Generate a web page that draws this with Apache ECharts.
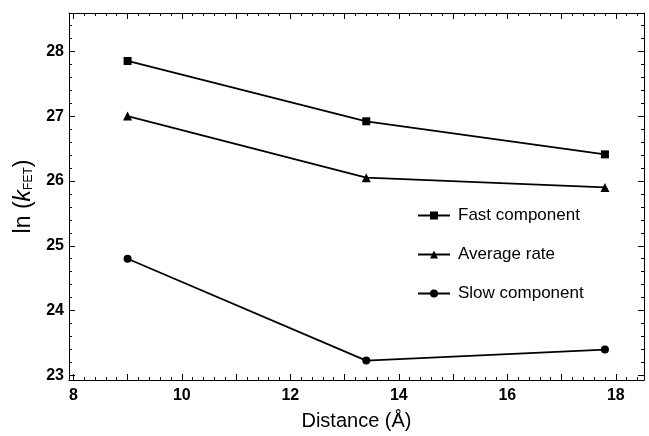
<!DOCTYPE html>
<html>
<head>
<meta charset="utf-8">
<script src="https://cdn.jsdelivr.net/npm/echarts@6/dist/echarts.min.js"></script>
<style>
  html, body { margin: 0; padding: 0; background: #fff; }
  #chart { width: 649px; height: 436px; }
</style>
</head>
<body>
<div id="chart"></div>
<script>
// Donor–acceptor distance (Å) and ln(k_FET) for each rate component
const distances = [9.0, 13.4, 17.8];
const fastComponent = [27.85, 26.92, 26.41];
const averageRate = [27.0, 26.05, 25.9];
const slowComponent = [24.8, 23.23, 23.4];

const seriesNames = ['Fast component', 'Average rate', 'Slow component'];

// Axis ticks and labels
const xMajorTicks = [8, 9, 10, 11, 12, 13, 14, 15, 16, 17, 18];
const xTickLabels = [8, 10, 12, 14, 16, 18];
const yMajorTicks = [23, 24, 25, 26, 27, 28];
const yTickLabels = [23, 24, 25, 26, 27, 28];

const X_MIN = 7.92, X_MAX = 18.52;
const Y_MIN = 22.93, Y_MAX = 28.59;

function minorBetween(lo, hi, step) {
  const out = [];
  for (let v = lo; v <= hi + 1e-9; v += step) {
    const r = Math.round(v * 10) / 10;
    if (Math.abs(r - Math.round(r)) > 1e-6) out.push(r);
  }
  return out;
}
const xMinorTicks = minorBetween(8, 18.4, 0.2);
const yMinorTicks = minorBetween(23, 28.4, 0.2);

const font = 'Liberation Sans, Arial, sans-serif';

function xAxisDef(position, ticks, len, showLabels, showLine, extra) {
  return Object.assign({
    type: 'value', position: position, min: X_MIN, max: X_MAX,
    axisLine: { show: showLine, lineStyle: { color: '#000', width: 1 } },
    axisTick: { show: true, inside: true, length: len, customValues: ticks,
                lineStyle: { color: '#000', width: 1 } },
    axisLabel: showLabels
      ? { show: true, customValues: xTickLabels, color: '#000', fontFamily: font,
          fontWeight: 'bold', fontSize: 16, margin: 8 }
      : { show: false },
    splitLine: { show: false }
  }, extra || {});
}
function yAxisDef(position, ticks, len, showLabels, showLine, extra) {
  return Object.assign({
    type: 'value', position: position, min: Y_MIN, max: Y_MAX,
    axisLine: { show: showLine, lineStyle: { color: '#000', width: 1 } },
    axisTick: { show: true, inside: true, length: len, customValues: ticks,
                lineStyle: { color: '#000', width: 1 } },
    axisLabel: showLabels
      ? { show: true, customValues: yTickLabels, color: '#000', fontFamily: font,
          fontWeight: 'bold', fontSize: 16, margin: 5 }
      : { show: false },
    splitLine: { show: false }
  }, extra || {});
}

const lineSeries = (name, values, symbol, size) => ({
  name: name,
  type: 'line',
  xAxisIndex: 0, yAxisIndex: 0,
  data: distances.map((d, i) => [d, values[i]]),
  symbol: symbol,
  symbolSize: size,
  lineStyle: { color: '#000', width: 1.8 },
  itemStyle: { color: '#000' },
  emphasis: { disabled: true },
  animation: false
});

const chart = echarts.init(document.getElementById('chart'), null, { renderer: 'canvas' });
chart.setOption({
  backgroundColor: '#fff',
  animation: false,
  grid: { left: 69, right: 5, top: 13, bottom: 52, containLabel: false },
  legend: {
    orient: 'vertical',
    left: 412, top: 202,
    itemWidth: 32, itemHeight: 10, itemGap: 22,
    data: seriesNames,
    textStyle: { color: '#000', fontFamily: font, fontSize: 17, padding: [0, 0, 0, 3] },
    selectedMode: false
  },
  xAxis: [
    xAxisDef('bottom', xMajorTicks, 6, true, true, {
      name: 'Distance (Å)', nameLocation: 'middle', nameGap: 31,
      nameTextStyle: { color: '#000', fontFamily: font, fontSize: 20 }
    }),
    xAxisDef('bottom', xMinorTicks, 3, false, false),
    xAxisDef('top', xMajorTicks, 6, false, true),
    xAxisDef('top', xMinorTicks, 3, false, false)
  ],
  yAxis: [
    yAxisDef('left', yMajorTicks, 6, true, true, {
      name: '{n|ln (}{k|k}{s|FET}{n|)}', nameLocation: 'middle', nameGap: 34, nameRotate: 90,
      nameTextStyle: {
        color: '#000', fontFamily: font, fontSize: 23,
        rich: {
          n: { fontFamily: font, fontSize: 23, color: '#000' },
          k: { fontFamily: font, fontSize: 23, fontStyle: 'italic', color: '#000' },
          s: { fontFamily: font, fontSize: 12, color: '#000', verticalAlign: 'bottom', padding: [11, 0, 0, 0] }
        }
      }
    }),
    yAxisDef('left', yMinorTicks, 3, false, false),
    yAxisDef('right', yMajorTicks, 6, false, true),
    yAxisDef('right', yMinorTicks, 3, false, false)
  ],
  series: [
    lineSeries(seriesNames[0], fastComponent, 'rect', 8),
    lineSeries(seriesNames[1], averageRate, 'triangle', 9),
    lineSeries(seriesNames[2], slowComponent, 'circle', 8)
  ]
});
</script>
</body>
</html>
